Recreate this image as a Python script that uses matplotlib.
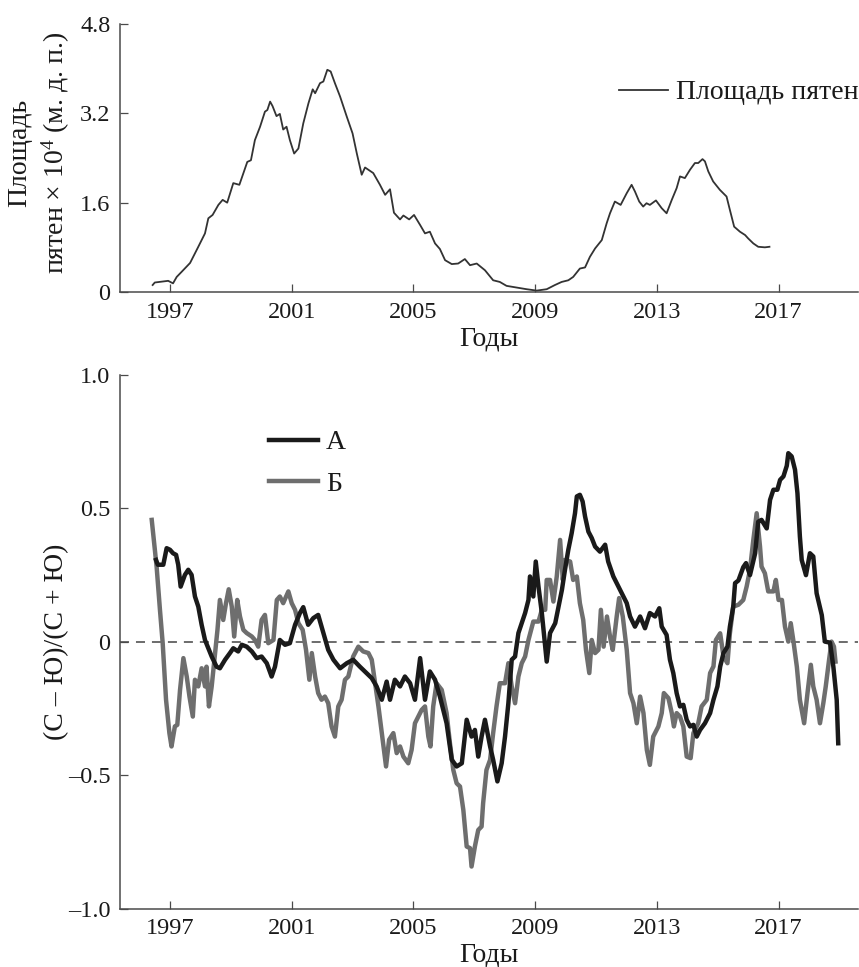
import matplotlib
matplotlib.use("Agg")
import matplotlib.pyplot as plt

plt.rcParams['font.family'] = ['Liberation Serif', 'DejaVu Serif']
plt.rcParams['mathtext.fontset'] = 'custom'
plt.rcParams['mathtext.rm'] = 'Liberation Serif'
plt.rcParams['mathtext.it'] = 'Liberation Serif:italic'
plt.rcParams['lines.scale_dashes'] = False

# ---------------- data ----------------
area_years = [1996.43, 1996.5, 1996.94, 1997.1, 1997.22, 1997.38, 1997.66, 1997.93, 1998.15, 1998.26,
              1998.4, 1998.59, 1998.73, 1998.88, 1999.08, 1999.28, 1999.54, 1999.66, 1999.79, 1999.96,
              2000.12, 2000.2, 2000.29, 2000.37, 2000.5, 2000.61, 2000.72, 2000.83, 2000.94, 2001.08,
              2001.22, 2001.38, 2001.55, 2001.69, 2001.77, 2001.93, 2002.04, 2002.17, 2002.28, 2002.42,
              2002.59, 2002.81, 2003.0, 2003.14, 2003.3, 2003.41, 2003.68, 2003.9, 2004.07, 2004.23,
              2004.36, 2004.56, 2004.67, 2004.86, 2005.02, 2005.22, 2005.38, 2005.54, 2005.71, 2005.87,
              2006.04, 2006.26, 2006.47, 2006.69, 2006.86, 2007.08, 2007.35, 2007.62, 2007.84, 2008.06,
              2008.39, 2008.72, 2009.05, 2009.38, 2009.65, 2009.87, 2010.09, 2010.25, 2010.47, 2010.64,
              2010.8, 2010.97, 2011.19, 2011.35, 2011.46, 2011.62, 2011.81, 2012.01, 2012.17, 2012.28,
              2012.42, 2012.55, 2012.66, 2012.77, 2012.97, 2013.16, 2013.32, 2013.49, 2013.65, 2013.76,
              2013.92, 2014.09, 2014.25, 2014.36, 2014.5, 2014.58, 2014.69, 2014.85, 2015.07, 2015.29,
              2015.4, 2015.54, 2015.73, 2015.9, 2016.0, 2016.17, 2016.33, 2016.55, 2016.7]
area_values = [0.125, 0.17, 0.2, 0.155, 0.27, 0.36, 0.52, 0.81, 1.05, 1.32,
               1.38, 1.56, 1.65, 1.60, 1.95, 1.92, 2.33, 2.36, 2.72, 2.96,
               3.23, 3.26, 3.41, 3.33, 3.15, 3.19, 2.91, 2.96, 2.72, 2.48,
               2.57, 3.02, 3.38, 3.63, 3.56, 3.74, 3.77, 3.98, 3.95, 3.74,
               3.50, 3.14, 2.84, 2.48, 2.10, 2.23, 2.13, 1.92, 1.74, 1.84,
               1.42, 1.30, 1.37, 1.30, 1.38, 1.20, 1.05, 1.08, 0.87, 0.77,
               0.57, 0.50, 0.51, 0.59, 0.48, 0.51, 0.39, 0.21, 0.18, 0.11,
               0.08, 0.05, 0.025, 0.05, 0.125, 0.18, 0.21, 0.27, 0.42, 0.44,
               0.63, 0.78, 0.93, 1.23, 1.41, 1.62, 1.56, 1.77, 1.92, 1.80,
               1.62, 1.53, 1.59, 1.56, 1.64, 1.50, 1.41, 1.65, 1.86, 2.07,
               2.04, 2.19, 2.31, 2.31, 2.38, 2.34, 2.16, 1.98, 1.83, 1.71,
               1.47, 1.17, 1.08, 1.02, 0.96, 0.87, 0.81, 0.80, 0.81]

a_years = [1996.54, 1996.6, 1996.78, 1996.89, 1997.0, 1997.1, 1997.2, 1997.27, 1997.35, 1997.49,
           1997.6, 1997.71, 1997.82, 1997.93, 1998.04, 1998.15, 1998.26, 1998.37, 1998.53, 1998.64,
           1998.81, 1998.97, 1999.08, 1999.24, 1999.36, 1999.52, 1999.69, 1999.85, 2000.01, 2000.18,
           2000.34, 2000.45, 2000.61, 2000.78, 2000.94, 2001.11, 2001.27, 2001.38, 2001.54, 2001.71,
           2001.87, 2002.04, 2002.2, 2002.37, 2002.59, 2002.81, 2003.02, 2003.24, 2003.46, 2003.63,
           2003.79, 2003.96, 2004.12, 2004.23, 2004.39, 2004.56, 2004.72, 2004.89, 2005.05, 2005.22,
           2005.38, 2005.54, 2005.71, 2005.87, 2006.09, 2006.26, 2006.42, 2006.59, 2006.75, 2006.91,
           2007.02, 2007.13, 2007.24, 2007.35, 2007.52, 2007.62, 2007.76, 2007.9, 2008.01, 2008.12,
           2008.23, 2008.34, 2008.45, 2008.56, 2008.67, 2008.78, 2008.83, 2008.94, 2009.02, 2009.11,
           2009.22, 2009.38, 2009.49, 2009.66, 2009.77, 2009.88, 2009.98, 2010.09, 2010.2, 2010.31,
           2010.37, 2010.47, 2010.56, 2010.64, 2010.75, 2010.86, 2010.97, 2011.13, 2011.3, 2011.4,
           2011.57, 2011.79, 2012.01, 2012.12, 2012.28, 2012.45, 2012.61, 2012.77, 2012.94, 2013.08,
           2013.16, 2013.32, 2013.43, 2013.54, 2013.65, 2013.76, 2013.87, 2013.98, 2014.09, 2014.2,
           2014.31, 2014.42, 2014.58, 2014.75, 2014.86, 2014.99, 2015.08, 2015.19, 2015.32, 2015.4,
           2015.51, 2015.57, 2015.68, 2015.84, 2015.93, 2016.06, 2016.23, 2016.33, 2016.44, 2016.61,
           2016.72, 2016.83, 2016.96, 2017.05, 2017.16, 2017.27, 2017.32, 2017.43, 2017.54, 2017.62,
           2017.7, 2017.76, 2017.9, 2018.03, 2018.14, 2018.25, 2018.42, 2018.52, 2018.69, 2018.8,
           2018.91, 2018.96]
a_values = [0.307, 0.289, 0.289, 0.351, 0.345, 0.332, 0.326, 0.289, 0.207, 0.251,
            0.27, 0.251, 0.17, 0.132, 0.064, 0.007, -0.024, -0.055, -0.093, -0.099,
            -0.067, -0.042, -0.024, -0.036, -0.011, -0.018, -0.036, -0.061, -0.055, -0.080,
            -0.130, -0.093, 0.007, -0.011, -0.005, 0.064, 0.108, 0.130, 0.064, 0.089,
            0.101, 0.033, -0.030, -0.067, -0.099, -0.080, -0.067, -0.093, -0.117, -0.136,
            -0.167, -0.217, -0.149, -0.217, -0.142, -0.167, -0.130, -0.155, -0.217, -0.061,
            -0.217, -0.111, -0.142, -0.205, -0.305, -0.442, -0.467, -0.455, -0.292, -0.355,
            -0.330, -0.430, -0.355, -0.292, -0.392, -0.442, -0.523, -0.455, -0.355, -0.230,
            -0.067, -0.055, 0.033, 0.070, 0.108, 0.157, 0.245, 0.170, 0.301, 0.207,
            0.108, -0.074, 0.033, 0.070, 0.132, 0.195, 0.270, 0.345, 0.407, 0.482,
            0.545, 0.551, 0.526, 0.470, 0.413, 0.389, 0.357, 0.338, 0.364, 0.301,
            0.245, 0.195, 0.145, 0.095, 0.057, 0.095, 0.051, 0.108, 0.095, 0.126,
            0.057, 0.026, -0.067, -0.117, -0.192, -0.242, -0.236, -0.292, -0.317, -0.311,
            -0.355, -0.330, -0.305, -0.267, -0.217, -0.167, -0.093, -0.042, -0.018, 0.057,
            0.132, 0.220, 0.230, 0.280, 0.295, 0.250, 0.332, 0.450, 0.457, 0.425,
            0.532, 0.570, 0.570, 0.607, 0.620, 0.660, 0.707, 0.695, 0.645, 0.557,
            0.395, 0.307, 0.250, 0.332, 0.320, 0.182, 0.100, 0.001, -0.003, -0.093,
            -0.217, -0.380]

b_years = [1996.40, 1996.56, 1996.67, 1996.76, 1996.87, 1996.98, 1997.05, 1997.16, 1997.24, 1997.33,
           1997.44, 1997.55, 1997.64, 1997.75, 1997.82, 1997.93, 1998.04, 1998.15, 1998.2, 1998.28,
           1998.37, 1998.48, 1998.56, 1998.64, 1998.75, 1998.84, 1998.93, 1999.03, 1999.11, 1999.21,
           1999.3, 1999.41, 1999.52, 1999.69, 1999.79, 1999.9, 2000.01, 2000.12, 2000.23, 2000.4,
           2000.51, 2000.61, 2000.72, 2000.89, 2001.0, 2001.11, 2001.22, 2001.36, 2001.47, 2001.58,
           2001.66, 2001.77, 2001.87, 2001.98, 2002.09, 2002.2, 2002.31, 2002.42, 2002.53, 2002.64,
           2002.75, 2002.86, 2003.02, 2003.19, 2003.35, 2003.52, 2003.63, 2003.74, 2003.85, 2003.96,
           2004.1, 2004.2, 2004.34, 2004.45, 2004.56, 2004.67, 2004.83, 2004.94, 2005.05, 2005.16,
           2005.27, 2005.38, 2005.49, 2005.56, 2005.65, 2005.76, 2005.93, 2006.09, 2006.2, 2006.31,
           2006.42, 2006.53, 2006.64, 2006.75, 2006.86, 2006.91, 2007.02, 2007.13, 2007.24, 2007.29,
           2007.4, 2007.52, 2007.62, 2007.73, 2007.84, 2008.01, 2008.12, 2008.23, 2008.34, 2008.45,
           2008.56, 2008.67, 2008.78, 2008.94, 2009.11, 2009.22, 2009.33, 2009.38, 2009.49, 2009.6,
           2009.71, 2009.82, 2009.91, 2009.98, 2010.15, 2010.25, 2010.37, 2010.47, 2010.58, 2010.67,
           2010.78, 2010.86, 2010.97, 2011.08, 2011.16, 2011.25, 2011.36, 2011.46, 2011.55, 2011.68,
           2011.76, 2011.88, 2012.01, 2012.12, 2012.23, 2012.34, 2012.45, 2012.56, 2012.67, 2012.77,
           2012.88, 2013.05, 2013.16, 2013.23, 2013.38, 2013.49, 2013.56, 2013.65, 2013.76, 2013.87,
           2013.98, 2014.11, 2014.2, 2014.36, 2014.47, 2014.64, 2014.75, 2014.86, 2014.94, 2015.08,
           2015.19, 2015.32, 2015.4, 2015.51, 2015.68, 2015.84, 2015.95, 2016.06, 2016.17, 2016.28,
           2016.39, 2016.44, 2016.55, 2016.66, 2016.83, 2016.91, 2017.0, 2017.11, 2017.21, 2017.32,
           2017.4, 2017.49, 2017.6, 2017.7, 2017.84, 2017.95, 2018.06, 2018.14, 2018.25, 2018.36,
           2018.47, 2018.55, 2018.66, 2018.74, 2018.82, 2018.87]
b_values = [0.457, 0.282, 0.120, -0.005, -0.217, -0.342, -0.392, -0.317, -0.311, -0.180,
            -0.061, -0.130, -0.205, -0.280, -0.142, -0.167, -0.099, -0.167, -0.093, -0.242,
            -0.167, -0.042, 0.045, 0.157, 0.082, 0.145, 0.197, 0.132, 0.020, 0.157,
            0.095, 0.045, 0.033, 0.020, 0.007, -0.018, 0.082, 0.101, -0.005, 0.007,
            0.157, 0.170, 0.145, 0.189, 0.145, 0.120, 0.070, 0.045, -0.030, -0.142,
            -0.042, -0.130, -0.192, -0.217, -0.205, -0.230, -0.317, -0.355, -0.242, -0.217,
            -0.142, -0.130, -0.055, -0.018, -0.036, -0.042, -0.067, -0.155, -0.242, -0.342,
            -0.467, -0.367, -0.342, -0.417, -0.392, -0.430, -0.455, -0.405, -0.305, -0.280,
            -0.255, -0.242, -0.355, -0.392, -0.242, -0.155, -0.180, -0.267, -0.380, -0.480,
            -0.530, -0.542, -0.630, -0.767, -0.773, -0.842, -0.767, -0.705, -0.692, -0.605,
            -0.480, -0.442, -0.342, -0.242, -0.155, -0.155, -0.080, -0.167, -0.230, -0.130,
            -0.080, -0.055, 0.007, 0.076, 0.076, 0.120, 0.120, 0.232, 0.232, 0.151,
            0.245, 0.382, 0.232, 0.307, 0.301, 0.232, 0.245, 0.145, 0.082, -0.030,
            -0.117, 0.007, -0.042, -0.030, 0.120, -0.018, 0.095, 0.020, -0.030, 0.095,
            0.164, 0.095, -0.030, -0.192, -0.230, -0.305, -0.205, -0.267, -0.405, -0.461,
            -0.355, -0.317, -0.267, -0.192, -0.211, -0.267, -0.317, -0.267, -0.280, -0.317,
            -0.430, -0.436, -0.342, -0.305, -0.242, -0.217, -0.117, -0.092, 0.007, 0.032,
            -0.055, -0.080, 0.032, 0.132, 0.139, 0.157, 0.207, 0.270, 0.382, 0.482,
            0.357, 0.282, 0.257, 0.189, 0.189, 0.232, 0.157, 0.157, 0.057, 0.001,
            0.070, 0.001, -0.093, -0.217, -0.305, -0.192, -0.086, -0.167, -0.217, -0.305,
            -0.230, -0.167, -0.067, 0.001, -0.018, -0.074]

year_ticks = [1997, 2001, 2005, 2009, 2013, 2017]
area_ticks = [0, 1.6, 3.2, 4.8]
area_tick_labels = ['0', '1.6', '3.2', '4.8']
asym_ticks = [-1.0, -0.5, 0, 0.5, 1.0]
asym_tick_labels = ['–1.0', '–0.5', '0', '0.5', '1.0']

# ---------------- figure ----------------
W, H = 859, 967
fig = plt.figure(figsize=(W / 100, H / 100), dpi=100)

TFS = 17.5   # tick labels
LFS = 20     # axis labels and legends
txt_c = '#1a1a1a'
spine_c = '#4a4a4a'
xlim = (1995.357, 2019.61)


def style(ax):
    for s in ['top', 'right']:
        ax.spines[s].set_visible(False)
    for s in ['left', 'bottom']:
        ax.spines[s].set_color(spine_c)
        ax.spines[s].set_linewidth(1.1)
    ax.tick_params(direction='in', length=6, width=0.9, color=spine_c,
                   labelsize=TFS, labelcolor=txt_c, pad=7)
    ax.set_xlim(*xlim)
    ax.set_xticks(year_ticks)
    ax.set_xticklabels([str(y) for y in year_ticks])


# top panel
ax1 = fig.add_axes([120 / W, 1 - 292 / H, 738 / W, 268 / H])
style(ax1)
ax1.plot(area_years, area_values, color='#333333', lw=1.3, label='Площадь пятен')
ax1.set_ylim(0, 4.8)
ax1.set_yticks(area_ticks)
ax1.set_yticklabels(area_tick_labels)
ax1.set_xlabel('Годы', fontsize=LFS, color=txt_c)
ax1.xaxis.set_label_coords(0.5, (292 - 339) / 268)
ax1.xaxis.label.set_va('center')
ax1.set_ylabel('Площадь\nпятен × 10$^4$ (м. д. п.)', fontsize=LFS, color=txt_c, linespacing=1.32)
ax1.yaxis.set_label_coords((39.5 - 120) / 738, 0.52)
ax1.yaxis.label.set_va('center')
leg1 = ax1.legend(loc='upper left', bbox_to_anchor=(619 / W, 1 - 80 / H),
                  bbox_transform=fig.transFigure, frameon=False, fontsize=LFS,
                  handlelength=1.76, handletextpad=0.3, borderpad=0, borderaxespad=0)
for t in leg1.get_texts():
    t.set_color(txt_c)

# bottom panel
ax2 = fig.add_axes([120 / W, 1 - 908.7 / H, 738 / W, 533.7 / H])
style(ax2)
ax2.axhline(0, color='#444444', lw=1.1, dashes=(6.5, 5.0), zorder=1)
ax2.plot(b_years, b_values, color='#6e6e6e', lw=3.2, label='Б', zorder=2)
ax2.plot(a_years, a_values, color='#1a1a1a', lw=3.2, label='А', zorder=3)
ax2.set_ylim(-1.0, 1.0)
ax2.set_yticks(asym_ticks)
ax2.set_yticklabels(asym_tick_labels)
ax2.set_xlabel('Годы', fontsize=LFS, color=txt_c)
ax2.xaxis.set_label_coords(0.5, (908.7 - 955) / 533.7)
ax2.xaxis.label.set_va('center')
ax2.set_ylabel('(С – Ю)/(С + Ю)', fontsize=LFS, color=txt_c)
ax2.yaxis.set_label_coords((57 - 120) / 738, 0.5)
ax2.yaxis.label.set_va('center')
h, l = ax2.get_legend_handles_labels()
leg2 = ax2.legend([h[1], h[0]], [l[1], l[0]], loc='upper left',
                  bbox_to_anchor=(269 / W, 1 - 430 / H), bbox_transform=fig.transFigure,
                  frameon=False, fontsize=LFS, handlelength=1.76, handletextpad=0.3,
                  labelspacing=0.58, borderpad=0, borderaxespad=0)
for t in leg2.get_texts():
    t.set_color(txt_c)

fig.savefig('out.png', dpi=100)
